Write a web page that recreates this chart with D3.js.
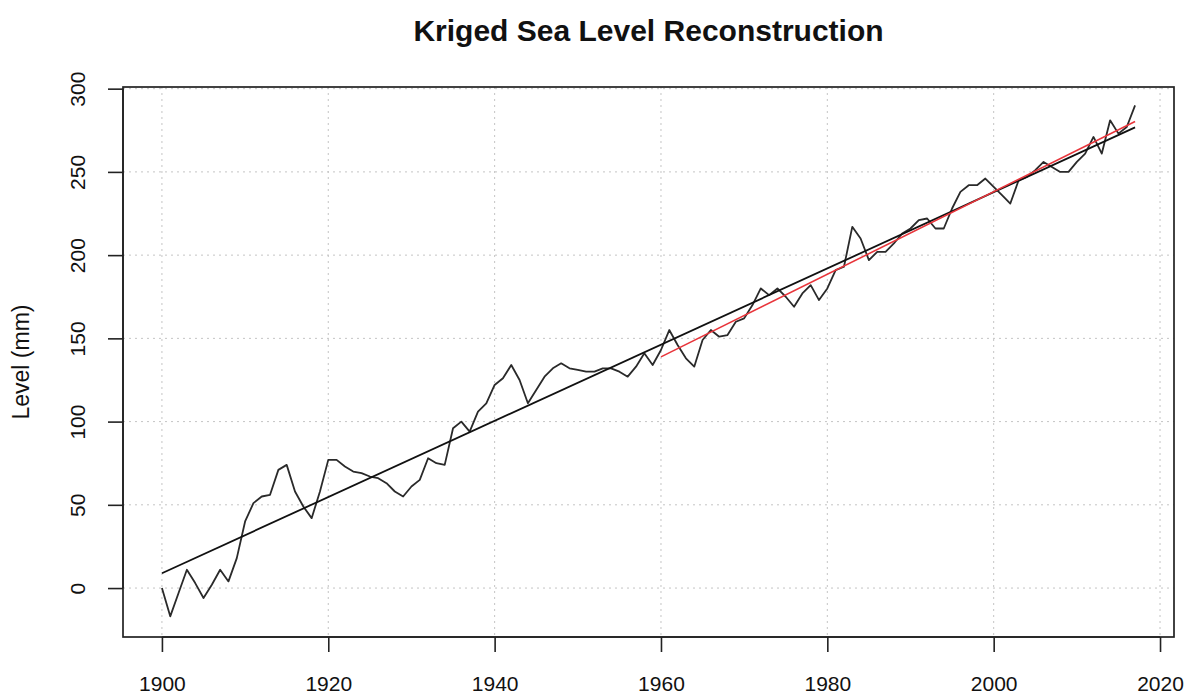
<!DOCTYPE html>
<meta charset="utf-8">

<head>
    <style>
        body {
            margin: 0;
            background: white;
        }

        text {
            font-family: "Liberation Sans", Arial, sans-serif;
            fill: #111;
        }

        .grid line {
            stroke: #c4c4c4;
            stroke-width: 1;
            stroke-dasharray: 2, 4;
        }
    </style>
    <script src="https://cdn.jsdelivr.net/npm/d3@7"></script>
</head>

<body>
    <script>
        const width = 1192
        const height = 695
        const box = { left: 123, right: 1174, top: 87, bottom: 637 }

        // annual kriged sea level, mm, starting 1900
        const firstYear = 1900
        const levels = [
            0, -17, -3, 11, 3, -6, 2, 11, 4, 18,
            40, 51, 55, 56, 71, 74, 58, 49, 42, 58,
            77, 77, 73, 70, 69, 67, 66, 63, 58, 55,
            61, 65, 78, 75, 74, 96, 100, 94, 106, 111,
            122, 126, 134, 125, 111, 119, 127, 132, 135, 132,
            131, 130, 130, 132, 132, 130, 127, 133, 141, 134,
            143, 155, 146, 138, 133, 149, 155, 151, 152, 160,
            162, 170, 180, 176, 180, 175, 169, 177, 182, 173,
            180, 191, 193, 217, 210, 197, 202, 202, 207, 213,
            216, 221, 222, 216, 216, 228, 238, 242, 242, 246,
            241, 236, 231, 245, 247, 251, 256, 253, 250, 250,
            256, 261, 271, 261, 281, 273, 277, 290
        ]
        const years = levels.map((d, i) => firstYear + i)
        const xTicks = [1900, 1920, 1940, 1960, 1980, 2000, 2020]
        const yTicks = [0, 50, 100, 150, 200, 250, 300]
        const recentFrom = 1960

        const series = years.map((y, i) => ({ year: y, level: levels[i] }))

        // least squares fit, like lm() in R
        function fit(pts) {
            const mx = d3.mean(pts, d => d.year)
            const my = d3.mean(pts, d => d.level)
            const b = d3.sum(pts, d => (d.year - mx) * (d.level - my)) / d3.sum(pts, d => (d.year - mx) ** 2)
            const a = my - b * mx
            const x0 = pts[0].year, x1 = pts[pts.length - 1].year
            return [{ year: x0, level: a + b * x0 }, { year: x1, level: a + b * x1 }]
        }

        const allFit = fit(series)
        const recentFit = fit(series.filter(d => d.year >= recentFrom))

        // R pads the data range by 4% on each side
        const xExt = d3.extent(years)
        const xPad = (xExt[1] - xExt[0]) * 0.04
        let xScale = d3.scaleLinear()
            .domain([xExt[0] - xPad, xExt[1] + xPad])
            .range([box.left, box.right])

        let yScale = d3.scaleLinear()
            .domain([-29.4, 301])
            .range([box.bottom, box.top])

        let svg = d3.select("body").append("svg")
            .attr("width", width)
            .attr("height", height)

        // dotted grid
        let grid = svg.append("g").attr("class", "grid")
        grid.selectAll(".gx")
            .data(xTicks)
            .enter()
            .append("line")
            .attr("x1", d => xScale(d))
            .attr("x2", d => xScale(d))
            .attr("y1", box.top)
            .attr("y2", box.bottom)
        grid.selectAll(".gy")
            .data(yTicks)
            .enter()
            .append("line")
            .attr("x1", box.left)
            .attr("x2", box.right)
            .attr("y1", d => yScale(d))
            .attr("y2", d => yScale(d))

        const line = d3.line()
            .x(d => xScale(d.year))
            .y(d => yScale(d.level))

        svg.append("path")
            .datum(series)
            .attr("d", line)
            .attr("fill", "none")
            .attr("stroke", "#2a2a2a")
            .attr("stroke-width", 1.8)
            .attr("stroke-linejoin", "round")

        svg.append("path")
            .datum(allFit)
            .attr("d", line)
            .attr("stroke", "#111")
            .attr("stroke-width", 1.8)

        svg.append("path")
            .datum(recentFit)
            .attr("d", line)
            .attr("stroke", "#e8353b")
            .attr("stroke-width", 1.6)

        // box
        svg.append("rect")
            .attr("x", box.left)
            .attr("y", box.top)
            .attr("width", box.right - box.left)
            .attr("height", box.bottom - box.top)
            .attr("fill", "none")
            .attr("stroke", "#222")
            .attr("stroke-width", 1.7)

        // axes
        let xAxis = svg.append("g")
            .attr("transform", "translate(0," + box.bottom + ")")
            .call(d3.axisBottom(xScale).tickValues(xTicks).tickSize(15).tickPadding(24).tickFormat(d3.format("d")))
        xAxis.select(".domain")
            .attr("d", "M" + xScale(xTicks[0]) + ",0H" + xScale(xTicks[xTicks.length - 1]))

        let yAxis = svg.append("g")
            .attr("transform", "translate(" + box.left + ",0)")
            .call(d3.axisLeft(yScale).tickValues(yTicks).tickSize(15))
        yAxis.select(".domain")
            .attr("d", "M0," + yScale(yTicks[0]) + "V" + yScale(yTicks[yTicks.length - 1]))

        svg.selectAll(".tick line, .domain")
            .attr("stroke", "#222")
            .attr("stroke-width", 1.6)

        xAxis.selectAll("text")
            .attr("font-size", 21)
            .attr("fill", "#111")

        yAxis.selectAll(".tick text")
            .attr("font-size", 21)
            .attr("fill", "#111")
            .attr("text-anchor", "middle")
            .attr("x", null)
            .attr("dy", null)
            .attr("transform", "translate(-38,0) rotate(-90)")

        svg.append("text")
            .attr("x", (box.left + box.right) / 2)
            .attr("y", 41)
            .attr("text-anchor", "middle")
            .attr("font-size", 30)
            .attr("font-weight", "bold")
            .text("Kriged Sea Level Reconstruction")

        svg.append("text")
            .attr("transform", "translate(29," + (box.top + box.bottom) / 2 + ") rotate(-90)")
            .attr("text-anchor", "middle")
            .attr("font-size", 23)
            .text("Level (mm)")
    </script>
</body>
